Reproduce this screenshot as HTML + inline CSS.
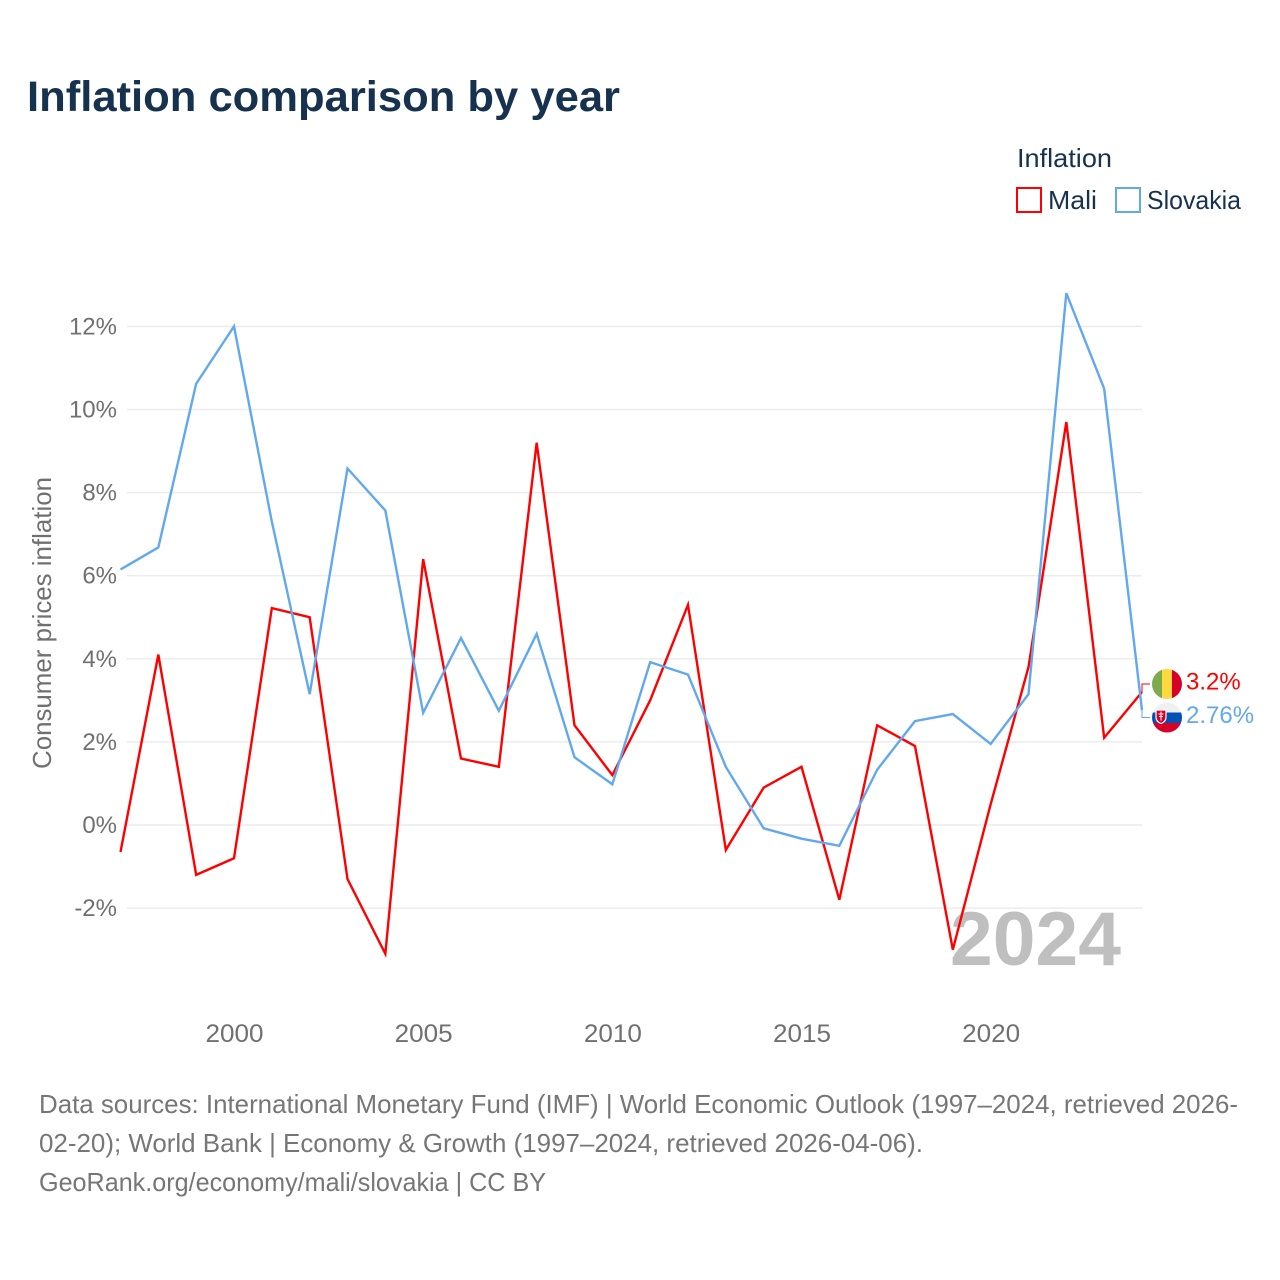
<!DOCTYPE html>
<html lang="en">
<head>
<meta charset="utf-8">
<title>Inflation comparison by year</title>
<style>
html,body{margin:0;padding:0;background:#fff;width:1280px;height:1280px;overflow:hidden}
svg{display:block}
text{font-family:"Liberation Sans",sans-serif}
</style>
</head>
<body>
<svg id="chart" width="1280" height="1280" viewBox="0 0 1280 1280" xmlns="http://www.w3.org/2000/svg">
  <defs>
    <clipPath id="clip-mali"><circle cx="1167" cy="684" r="15"/></clipPath>
    <clipPath id="clip-svk"><circle cx="1167" cy="717.500" r="15"/></clipPath>
  </defs>
  <text x="27" y="111" font-size="43" font-weight="700" fill="#17324f" textLength="593" lengthAdjust="spacingAndGlyphs">Inflation comparison by year</text>

  <g>
    <text x="1017" y="167" font-size="26" fill="#17324f" textLength="95" lengthAdjust="spacingAndGlyphs">Inflation</text>
    <rect x="1017" y="188" width="24" height="24" fill="#fff" stroke="#ff0000" stroke-width="2"/>
    <text x="1048" y="209" font-size="26" fill="#17324f" textLength="49" lengthAdjust="spacingAndGlyphs">Mali</text>
    <rect x="1116" y="188" width="24" height="24" fill="#fff" stroke="#62a8ee" stroke-width="2"/>
    <text x="1147" y="209" font-size="26" fill="#17324f" textLength="94" lengthAdjust="spacingAndGlyphs">Slovakia</text>
  </g>

  <g id="grid"></g>
  <g id="yticks"></g>
  <g id="xticks"></g>
  <text transform="translate(51,623) rotate(-90)" text-anchor="middle" font-size="26" fill="#707070" textLength="292" lengthAdjust="spacingAndGlyphs">Consumer prices inflation</text>

  <text x="950" y="965" font-size="76" font-weight="700" fill="#bfbfbf" textLength="171" lengthAdjust="spacingAndGlyphs">2024</text>

  <g id="series"></g>
  <g id="ends"></g>

  <g clip-path="url(#clip-mali)">
    <rect x="1152" y="669" width="10" height="30" fill="#7dab4c"/>
    <rect x="1162" y="669" width="10" height="30" fill="#fdd840"/>
    <rect x="1172" y="669" width="10" height="30" fill="#d80027"/>
  </g>
  <g clip-path="url(#clip-svk)">
    <rect x="1152" y="702" width="30" height="10.500" fill="#f0f0f0"/>
    <rect x="1152" y="712.500" width="30" height="10.500" fill="#0052b4"/>
    <rect x="1152" y="723" width="30" height="10" fill="#d80027"/>
    <path d="M1156 710h10v7.500q0 4-5 6q-5-2-5-6z" fill="#d80027" stroke="#fff" stroke-width="1.200"/>
    <path d="M1161 711.500v9M1158.500 714h5M1159 716.500h4" stroke="#fff" stroke-width="1"/>
  </g>

  <g font-size="26" fill="#767676">
    <text x="39" y="1113" textLength="1199" lengthAdjust="spacingAndGlyphs">Data sources: International Monetary Fund (IMF) | World Economic Outlook (1997–2024, retrieved 2026-</text>
    <text x="39" y="1152" textLength="884" lengthAdjust="spacingAndGlyphs">02-20); World Bank | Economy &amp; Growth (1997–2024, retrieved 2026-04-06).</text>
    <text x="39" y="1191" textLength="507" lengthAdjust="spacingAndGlyphs">GeoRank.org/economy/mali/slovakia | CC BY</text>
  </g>
</svg>
<script>
const years = [1997,1998,1999,2000,2001,2002,2003,2004,2005,2006,2007,2008,2009,2010,2011,2012,2013,2014,2015,2016,2017,2018,2019,2020,2021,2022,2023,2024];
const maliValues = [-0.65,4.1,-1.2,-0.8,5.22,5.0,-1.3,-3.1,6.4,1.6,1.4,9.2,2.4,1.2,3.0,5.3,-0.6,0.9,1.4,-1.8,2.4,1.9,-3.0,0.5,3.8,9.7,2.1,3.2];
const slovakiaValues = [6.15,6.68,10.62,12.0,7.3,3.15,8.58,7.57,2.7,4.5,2.75,4.6,1.63,0.98,3.92,3.62,1.4,-0.08,-0.33,-0.5,1.33,2.5,2.67,1.95,3.15,12.8,10.5,2.76];
const yTickValues = [-2,0,2,4,6,8,10,12];
const xTickValues = [2000,2005,2010,2015,2020];
const seriesNames = ['mali','slovakia'];
const endLabels = ['3.2%','2.76%'];

const NS = 'http://www.w3.org/2000/svg';
const X0 = 120.5, X1 = 1142, Y0 = 825, YPER = 41.55;
const COLORS = ['#ff0000','#62a8ee'];
const LABEL_Y = [684,717.5];
function xScale(year){ return X0 + (year - years[0]) * (X1 - X0) / (years[years.length-1] - years[0]); }
function yScale(v){ return Y0 - v * YPER; }
function make(tag, attrs, parent){
  const el = document.createElementNS(NS, tag);
  for (const k in attrs) el.setAttribute(k, attrs[k]);
  parent.appendChild(el);
  return el;
}
const grid = document.getElementById('grid');
const yt = document.getElementById('yticks');
const xt = document.getElementById('xticks');
const series = document.getElementById('series');
const ends = document.getElementById('ends');

yTickValues.forEach(function(v){
  const ln = make('line',{x1:127,x2:X1,y1:yScale(v),y2:yScale(v),stroke:'#ececec','stroke-width':1.5},grid);
  
  
  const t = make('text',{x:117,y:yScale(v)+8,'text-anchor':'end','font-size':24,fill:'#707070'},yt);
  t.textContent = v + '%';
  
  
});
xTickValues.forEach(function(y){
  const t = make('text',{x:xScale(y)+0.5,y:1042,'text-anchor':'middle','font-size':25,fill:'#707070',textLength:58,lengthAdjust:'spacingAndGlyphs'},xt);
  t.textContent = y;
  
  
});
[maliValues, slovakiaValues].forEach(function(vals,i){
  const pts = vals.map(function(v,j){ return xScale(years[j]).toFixed(2)+','+yScale(v).toFixed(2); }).join(' ');
  const pl = make('polyline',{points:pts,fill:'none',stroke:COLORS[i],'stroke-width':2.4,'stroke-linejoin':'miter'},series);
  
  

  const endY = yScale(vals[vals.length-1]);
  const lead = make('polyline',{points:X1+','+endY+' '+X1+','+LABEL_Y[i]+' 1150,'+LABEL_Y[i],fill:'none',stroke:COLORS[i],'stroke-width':1},ends);
  
  

  const t = make('text',{x:1186,y:LABEL_Y[i]+5.5,'font-size':24,fill:COLORS[i]},ends);
  t.textContent = endLabels[i];
  
  
});
</script>
</body>
</html>
